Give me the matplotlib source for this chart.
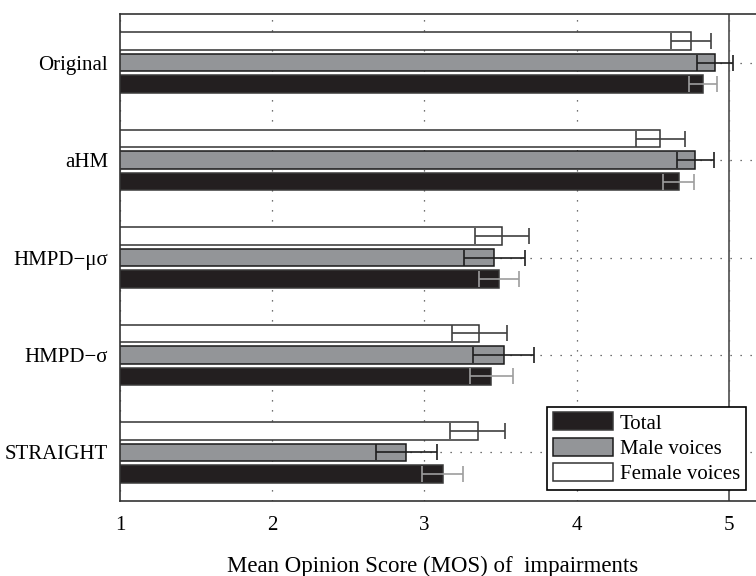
import numpy as np
import matplotlib.pyplot as plt

plt.rcParams['font.family'] = ['Liberation Serif', 'DejaVu Serif']

# MOS per system, with 95% confidence intervals
systems = ['Original', 'aHM', 'HMPD\u2212\u03bc\u03c3', 'HMPD\u2212\u03c3', 'STRAIGHT']
female_mos = [4.75, 4.55, 3.51, 3.36, 3.35]
female_ci = [0.13, 0.16, 0.18, 0.18, 0.18]
male_mos = [4.91, 4.78, 3.46, 3.52, 2.88]
male_ci = [0.12, 0.12, 0.20, 0.20, 0.20]
total_mos = [4.83, 4.67, 3.49, 3.44, 3.12]
total_ci = [0.09, 0.10, 0.13, 0.14, 0.135]

fig = plt.figure(figsize=(7.56, 5.76), dpi=100)
ax = fig.add_axes([120 / 756, 75 / 576, 670 / 756, 487 / 576])

y = np.arange(len(systems))
off = 0.221
h = 0.18

b_f = ax.barh(y - off, female_mos, height=h, color='white', edgecolor='#333333', linewidth=1.1, zorder=2)
b_m = ax.barh(y, male_mos, height=h, color='#939598', edgecolor='#1a1a1a', linewidth=1.1, zorder=2)
b_t = ax.barh(y + off, total_mos, height=h, color='#231f20', edgecolor='#3a3a3a', linewidth=1.1, zorder=2)

ax.errorbar(female_mos, y - off, xerr=female_ci, fmt='none', ecolor='#404040',
            elinewidth=1.2, capsize=6, capthick=1.2, zorder=4)
ax.errorbar(male_mos, y, xerr=male_ci, fmt='none', ecolor='#1e1e1e',
            elinewidth=1.2, capsize=6, capthick=1.2, zorder=4)
ax.errorbar(total_mos, y + off, xerr=total_ci, fmt='none', ecolor='#9d9d9d',
            elinewidth=1.2, capsize=6, capthick=1.2, zorder=4)

# top of the scale
ax.axvline(5, color='#5a5a5a', lw=1.3, zorder=1.5)

ax.set_xlim(1, 1 + 670 / 152.2)
ax.set_ylim(4.5, -0.5)
ax.set_xticks([1, 2, 3, 4, 5])
ax.set_yticks(y)
ax.set_yticklabels(systems)
ax.tick_params(axis='both', length=0, labelsize=15)
ax.tick_params(axis='x', pad=10.5)
ax.tick_params(axis='y', pad=8.5)

ax.set_axisbelow(True)
ax.grid(True, ls=(0, (1, 7)), color='#444444', lw=0.9)

for s in ['top', 'left', 'bottom']:
    ax.spines[s].set_color('#333333')
    ax.spines[s].set_linewidth(1.2)
ax.spines['right'].set_visible(False)

ax.set_xlabel('Mean Opinion Score (MOS) of  impairments', fontsize=16.5)
ax.xaxis.label.set_va('baseline')
ax.xaxis.set_label_coords((433 - 120) / 670, -(572 - 501) / 487)

leg = ax.legend([b_t, b_m, b_f], ['Total', 'Male voices', 'Female voices'],
                loc='lower left', bbox_to_anchor=((547 - 120) / 670, (501 - 490) / 487),
                borderaxespad=0, fontsize=15, handlelength=2.9, handleheight=0.95,
                handletextpad=0.3, labelspacing=0.2, borderpad=0.28,
                fancybox=False, framealpha=1, edgecolor='black')
leg.get_frame().set_linewidth(1.2)
leg.set_zorder(5)

fig.savefig('out.png', dpi=100)
